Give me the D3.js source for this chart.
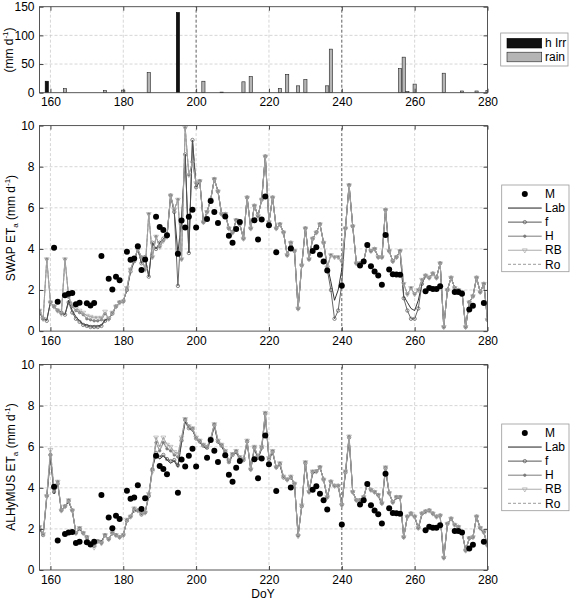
<!DOCTYPE html>
<html><head><meta charset="utf-8">
<script src="https://cdn.jsdelivr.net/npm/d3@7"></script>
<style>
body{margin:0;background:#fff}
svg{display:block}
text{font-family:"Liberation Sans",Arial,Helvetica,sans-serif;fill:#000}
</style>
</head><body>
<svg id="c" width="574" height="602"></svg>
<script>
// ---------- DATA ----------
const days = d3.range(157, 281); // DoY 157..280

const xTicks = [160, 180, 200, 220, 240, 260, 280];
const rainTicks = [0, 50, 100, 150];
const etTicks = [0, 2, 4, 6, 8, 10];

// irrigation & rain (mm/d)
const irrDays = [159, 195, 207];
const irrVals = [20, 140, 1];
const rainDays = [164, 175, 180, 187, 202, 213, 215, 223, 225, 228, 230, 236, 237, 256, 257, 258, 260, 268, 273, 277, 280];
const rainVals = [7, 3.5, 4.5, 35, 20, 19, 28, 7.5, 32, 12, 23, 12, 76, 42, 62, 2, 15, 34, 3, 3, 4];

// measured ET (M)
const mDays = [161,162,164,165,166,167,168,170,171,172,174,176,177,178,179,181,182,183,184,185,186,189,190,191,192,195,196,197,198,199,200,203,204,205,206,208,209,210,211,212,216,217,218,219,220,222,226,232,233,234,235,236,240,245,246,247,248,249,250,251,252,253,254,255,256,263,264,265,266,267,271,272,273,275,276,279];
const mVals = [4.05,1.43,1.75,1.82,1.85,1.31,1.38,1.35,1.24,1.37,3.65,2.55,2.03,2.64,2.48,3.86,3.47,3.53,4.13,2.97,3.49,5.56,5.06,4.92,4.66,3.76,5.38,5.04,5.56,5.9,5.04,5.46,6.33,5.8,5.26,5.58,4.64,4.3,4.97,5.31,5.39,4.46,5.43,6.55,5.15,3.84,4.02,3.9,4.08,3.71,3.39,2.95,2.21,3.19,3.39,4.19,3.15,2.9,2.71,2.26,4.68,3.0,2.77,2.76,2.74,1.94,2.1,2.05,2.05,2.18,1.9,1.9,1.82,1.05,1.23,1.37];

// SWAP simulated ET (days 157..280)
const swapLab = [
 0.9,0.6,0.55,1.4,1.2,1.0,0.9,0.8,1.5,1.0,
 0.7,0.5,0.35,0.3,0.25,0.25,0.25,0.3,0.55,0.6,
 0.85,1.2,1.4,1.45,2.0,2.9,3.4,4.0,3.3,3.6,
 2.65,4.3,4.0,4.3,4.5,4.6,6.6,5.8,3.8,5.4,
 8.6,3.8,9.3,7.0,7.3,5.3,5.8,6.4,7.4,6.8,
 5.7,5.7,5.0,4.8,5.4,5.2,4.5,6.5,5.0,6.1,
 5.6,6.4,8.5,5.3,6.5,5.0,5.2,4.8,3.7,4.3,
 3.9,1.1,3.2,5.0,3.5,4.5,4.8,5.2,4.3,3.2,
 2.4,1.5,2.0,3.0,5.0,7.1,5.1,3.3,3.3,3.4,
 4.2,3.9,4.0,3.6,3.6,5.9,3.9,3.4,3.6,3.9,
 1.7,1.4,1.1,1.0,1.5,2.3,2.7,2.6,2.8,2.6,
 3.3,0.2,2.0,2.6,2.1,2.0,1.9,0.2,1.4,1.7,
 2.6,1.9,2.3,0.55];
const swapF = [
 0.9,0.6,0.5,1.4,1.2,1.0,0.9,0.8,1.4,0.9,
 0.6,0.45,0.3,0.25,0.2,0.2,0.2,0.25,0.5,0.6,
 0.85,1.2,1.4,1.45,2.0,2.9,3.4,4.0,3.3,3.6,
 2.65,4.3,4.0,4.3,4.5,4.6,6.6,5.8,2.2,5.4,
 8.6,3.8,9.3,7.0,7.3,5.3,5.8,6.4,7.4,6.8,
 5.7,5.7,5.0,4.8,5.4,5.2,4.5,6.5,5.0,6.1,
 5.6,6.4,8.5,5.3,6.5,5.0,5.2,4.8,3.7,4.3,
 3.9,1.1,3.2,5.0,3.5,4.5,4.8,5.2,4.3,3.0,
 2.0,0.6,1.0,2.3,5.0,7.1,5.1,3.3,3.3,3.4,
 4.2,3.9,4.0,3.6,3.6,5.9,3.9,3.4,3.6,3.9,
 1.6,1.0,0.6,0.6,1.1,2.3,2.7,2.6,2.8,2.6,
 3.3,0.2,2.0,2.6,2.1,2.0,1.9,0.2,1.4,1.7,
 2.6,1.9,2.3,0.55];
const swapH = [
 1.0,0.6,3.5,1.4,1.2,1.0,0.85,3.5,1.65,1.2,
 1.0,0.9,0.8,0.6,0.55,0.5,0.5,0.55,0.85,0.6,
 0.9,1.2,1.4,1.45,2.1,3.0,3.5,4.0,3.6,3.0,
 5.7,3.6,4.6,4.1,4.4,4.6,6.6,5.9,6.4,3.5,
 9.9,7.6,8.2,7.2,7.3,5.3,5.8,6.4,7.4,6.8,
 5.7,5.7,5.0,4.8,5.4,5.2,4.5,6.5,5.0,6.1,
 5.6,6.4,8.5,5.3,6.5,5.0,5.2,4.8,3.7,4.3,
 3.9,1.1,3.2,5.0,3.5,4.5,4.8,5.2,4.3,3.1,
 3.7,3.6,3.6,3.4,5.0,7.1,5.1,3.3,3.3,3.4,
 4.2,3.9,4.0,3.6,3.6,5.9,3.9,3.4,3.6,3.9,
 2.3,1.8,2.1,1.8,2.0,2.5,2.7,2.6,2.8,2.6,
 3.3,0.2,2.0,2.6,2.1,2.0,1.9,0.2,1.4,1.7,
 2.6,1.9,2.3,0.55];
const swapRB = [
 1.0,0.6,3.5,1.4,1.2,1.0,0.85,3.5,1.7,1.3,
 1.1,1.0,0.9,0.75,0.7,0.65,0.65,0.65,0.95,0.6,
 0.9,1.2,1.4,1.45,2.1,3.0,3.5,4.0,3.6,3.0,
 5.7,3.6,4.6,4.1,4.4,4.6,6.6,5.9,6.4,3.5,
 9.9,7.6,8.2,7.2,7.3,5.3,5.8,6.4,7.4,6.8,
 5.7,5.7,5.0,4.8,5.4,5.2,4.5,6.5,5.0,6.1,
 5.6,6.4,8.5,5.3,6.5,5.0,5.2,4.8,3.7,4.3,
 3.9,1.1,3.2,5.0,3.5,4.5,4.8,5.2,4.3,3.1,
 3.7,3.6,3.6,3.4,5.0,7.1,5.1,3.3,3.3,3.4,
 4.2,3.9,4.0,3.6,3.6,5.9,3.9,3.4,3.6,3.9,
 2.3,1.8,2.1,1.8,2.0,2.5,2.7,2.6,2.8,2.6,
 3.3,0.2,2.0,2.6,2.1,2.0,1.9,0.2,1.4,1.7,
 2.6,1.9,2.3,0.55];
const swapRo = [
 1.0,0.6,3.5,1.4,1.2,1.0,0.85,3.5,1.7,1.3,
 1.1,1.0,0.9,0.75,0.7,0.65,0.65,0.65,0.95,0.6,
 0.9,1.2,1.4,1.45,2.1,3.0,3.5,4.0,3.6,3.0,
 5.7,3.6,4.6,4.1,4.4,4.6,6.6,5.9,6.4,3.5,
 9.9,7.6,8.2,7.2,7.3,5.3,5.8,6.4,7.4,6.8,
 5.7,5.7,5.0,4.8,5.4,5.2,4.5,6.5,5.0,6.1,
 5.6,6.4,8.5,5.3,6.5,5.0,5.2,4.8,3.7,4.3,
 3.9,1.1,3.2,5.0,3.5,4.5,4.8,5.2,4.3,3.1,
 3.7,3.6,3.6,3.4,5.0,7.1,5.1,3.3,3.3,3.4,
 4.2,3.9,4.0,3.6,3.6,5.9,3.9,3.4,3.6,3.9,
 2.3,1.8,2.1,1.8,2.0,2.5,2.7,2.6,2.8,2.6,
 3.3,0.2,2.0,2.6,2.1,2.0,1.9,0.2,1.4,1.7,
 2.6,1.9,2.3,0.55];

// ALHyMUS simulated ET (days 157..280)
const alhLab = [
 2.0,1.7,3.5,5.5,3.7,4.2,2.9,3.1,3.3,2.9,
 1.8,2.0,1.8,1.6,1.35,1.25,1.45,1.4,1.7,1.5,
 1.8,1.7,1.6,1.7,2.4,2.6,2.9,2.9,2.7,2.8,
 3.6,5.0,5.6,5.4,5.55,5.35,5.2,5.3,5.0,6.2,
 7.2,6.9,6.8,6.4,6.2,6.0,5.9,6.3,7.0,6.2,
 6.0,5.7,5.2,5.6,5.7,5.4,5.3,6.2,4.9,5.9,
 5.4,5.9,7.5,5.4,5.7,5.0,5.1,4.5,4.4,4.5,
 4.2,1.7,3.1,5.2,3.8,4.7,4.8,5.0,4.4,3.5,
 4.3,4.1,4.1,3.2,4.7,6.4,3.8,3.4,3.4,3.5,
 4.2,3.9,3.8,3.6,3.2,4.9,3.7,3.3,3.5,3.5,
 1.6,2.6,2.7,2.6,2.0,2.7,2.8,2.9,2.7,2.6,
 2.6,0.6,2.2,2.5,2.2,2.1,1.8,1.0,1.5,1.6,
 2.6,2.0,1.8,1.2];
const alhF = [
 2.0,1.7,3.6,5.6,3.8,4.2,2.9,3.1,3.35,2.9,
 1.8,2.0,1.8,1.6,1.3,1.2,1.4,1.35,1.7,1.5,
 1.8,1.7,1.6,1.7,2.4,2.6,2.9,2.9,2.7,2.8,
 3.6,4.9,5.7,5.5,5.6,5.4,5.3,5.35,5.1,6.3,
 7.3,6.9,6.85,6.4,6.25,6.05,5.95,6.35,7.05,6.25,
 6.05,5.75,5.25,5.6,5.75,5.45,5.35,6.25,4.9,5.95,
 5.45,5.95,7.6,5.4,5.75,5.0,5.15,4.5,4.4,4.5,
 4.2,1.7,3.1,5.2,3.8,4.75,4.8,5.0,4.4,3.55,
 4.3,4.1,4.1,3.2,4.75,6.45,3.8,3.4,3.4,3.55,
 4.2,3.9,3.8,3.65,3.25,4.95,3.75,3.3,3.55,3.55,
 1.6,2.6,2.75,2.6,2.05,2.75,2.85,2.9,2.75,2.6,
 2.65,0.6,2.25,2.5,2.2,2.1,1.85,0.95,1.55,1.6,
 2.6,2.05,1.85,1.2];
const alhH = [
 2.1,1.75,3.6,5.6,3.9,4.3,2.9,3.1,3.4,2.9,
 1.8,2.05,1.8,1.6,1.3,1.15,1.4,1.3,1.7,1.5,
 1.8,1.7,1.6,1.7,2.45,2.6,3.0,2.9,2.75,2.8,
 3.7,4.9,6.2,5.8,6.2,5.9,5.8,5.6,5.5,6.4,
 7.35,7.0,6.9,6.45,6.3,6.1,6.0,6.4,7.1,6.3,
 6.1,5.8,5.3,5.65,5.8,5.5,5.4,6.3,4.9,6.0,
 5.5,6.0,7.65,5.45,5.8,5.0,5.2,4.55,4.4,4.55,
 4.2,1.65,3.15,5.25,3.8,4.8,4.8,5.0,4.4,3.55,
 4.3,4.1,4.1,3.15,4.8,6.5,3.8,3.4,3.4,3.55,
 4.2,3.9,3.8,3.65,3.25,5.0,3.75,3.3,3.55,3.55,
 1.6,2.6,2.75,2.6,2.05,2.75,2.85,2.9,2.75,2.6,
 2.65,0.6,2.25,2.5,2.2,2.1,1.85,0.95,1.55,1.6,
 2.6,2.05,1.85,1.2];
const alhRB = [
 2.1,1.75,3.6,5.85,3.9,4.3,2.9,3.1,3.4,2.9,
 1.8,2.05,1.8,1.6,1.3,1.1,1.4,1.3,1.7,1.5,
 1.8,1.7,1.6,1.7,2.45,2.6,3.0,2.9,2.75,2.8,
 3.7,4.8,6.45,6.0,6.45,6.1,6.0,5.75,5.65,6.45,
 7.35,7.0,6.9,6.45,6.3,6.1,6.0,6.4,7.1,6.3,
 6.1,5.8,5.3,5.65,5.8,5.5,5.4,6.3,4.9,6.0,
 5.5,6.0,7.65,5.45,5.8,5.0,5.2,4.55,4.4,4.55,
 4.2,1.65,3.15,5.25,3.8,4.8,4.8,5.0,4.4,3.55,
 4.3,4.1,4.1,3.15,4.8,6.5,3.8,3.4,3.4,3.55,
 4.2,3.9,3.8,3.65,3.25,5.0,3.75,3.3,3.55,3.55,
 1.6,2.6,2.75,2.6,2.05,2.75,2.85,2.9,2.75,2.6,
 2.65,0.6,2.25,2.5,2.2,2.1,1.85,0.95,1.55,1.6,
 2.6,2.05,1.85,1.2];
const alhRo = [
 2.1,1.75,3.6,5.85,3.9,4.3,2.9,3.1,3.4,2.9,
 1.8,2.05,1.8,1.6,1.3,1.1,1.4,1.3,1.7,1.5,
 1.8,1.7,1.6,1.7,2.45,2.6,3.0,2.9,2.75,2.8,
 3.7,4.8,6.45,6.0,6.45,6.1,6.0,5.75,5.65,6.45,
 7.35,7.0,6.9,6.45,6.3,6.1,6.0,6.4,7.1,6.3,
 6.1,5.8,5.3,5.65,5.8,5.5,5.4,6.3,4.9,6.0,
 5.5,6.0,7.65,5.45,5.8,5.0,5.2,4.55,4.4,4.55,
 4.2,1.65,3.15,5.25,3.8,4.8,4.8,5.0,4.4,3.55,
 4.3,4.1,4.1,3.15,4.8,6.5,3.8,3.4,3.4,3.55,
 4.2,3.9,3.8,3.65,3.25,5.0,3.75,3.3,3.55,3.55,
 1.6,2.6,2.75,2.6,2.05,2.75,2.85,2.9,2.75,2.6,
 2.65,0.6,2.25,2.5,2.2,2.1,1.85,0.95,1.55,1.6,
 2.6,2.05,1.85,1.2];

// ---------- STYLES ----------
const styles = {
  Lab: {color: '#1e1e1e', dash: null, marker: null},
  f:   {color: '#555555', dash: null, marker: 'circle'},
  H:   {color: '#7a7a7a', dash: null, marker: 'dot'},
  RB:  {color: '#ababab', dash: null, marker: 'tri'},
  Ro:  {color: '#9c9c9c', dash: '3,2', marker: null}
};
const seriesOrder = ['Lab', 'f', 'H', 'RB', 'Ro'];

// ---------- LAYOUT ----------
const svg = d3.select('#c');
const L = 39.5, R = 487.5;
const x = d3.scaleLinear().domain([157, 280]).range([L, R]);

const panels = {
  top: {y: d3.scaleLinear().domain([0, 150]).range([92.7, 6.7]), ticks: rainTicks, marks: [200, 240]},
  mid: {y: d3.scaleLinear().domain([0, 10]).range([331.1, 125.6]), ticks: etTicks, marks: [240]},
  bot: {y: d3.scaleLinear().domain([0, 10]).range([570, 364.5]), ticks: etTicks, marks: [240]}
};

function drawFrame(p, id) {
  const y = p.y;
  const [y0, y1] = y.range();
  const g = svg.append('g');
  // clip
  svg.append('clipPath').attr('id', 'clip-' + id)
    .append('rect').attr('x', L).attr('y', y1).attr('width', R - L).attr('height', y0 - y1);
  // grid
  g.selectAll('.gx').data(xTicks.filter(t => t > 157 && t < 280)).enter().append('line')
    .attr('x1', d => x(d)).attr('x2', d => x(d)).attr('y1', y0).attr('y2', y1)
    .attr('stroke', d => p.marks.includes(d) ? '#333' : '#c4c4c4')
    .attr('stroke-width', d => p.marks.includes(d) ? 0.8 : 0.7)
    .attr('stroke-dasharray', '3,2');
  g.selectAll('.gy').data(p.ticks.filter(t => t > y.domain()[0] && t < y.domain()[1])).enter().append('line')
    .attr('x1', L).attr('x2', R).attr('y1', d => y(d)).attr('y2', d => y(d))
    .attr('stroke', '#c4c4c4').attr('stroke-width', 0.7).attr('stroke-dasharray', '3,2');
  return g;
}

function drawAxes(p) {
  const y = p.y;
  const [y0, y1] = y.range();
  const axB = svg.append('g').attr('transform', `translate(0,${y0})`)
    .call(d3.axisBottom(x).tickValues(xTicks).tickSize(-4).tickPadding(5));
  const axT = svg.append('g').attr('transform', `translate(0,${y1})`)
    .call(d3.axisTop(x).tickValues(xTicks).tickSize(-4).tickFormat(''));
  const axL = svg.append('g').attr('transform', `translate(${L},0)`)
    .call(d3.axisLeft(y).tickValues(p.ticks).tickSize(-4).tickPadding(5));
  const axR = svg.append('g').attr('transform', `translate(${R},0)`)
    .call(d3.axisRight(y).tickValues(p.ticks).tickSize(-4).tickFormat(''));
  [axB, axT, axL, axR].forEach(a => {
    a.select('.domain').remove();
    a.selectAll('line').attr('stroke', '#444');
    a.selectAll('text').attr('font-size', 12).attr('fill', '#000')
      .attr('font-family', '"Liberation Sans",Arial,sans-serif');
  });
  svg.append('rect').attr('x', L).attr('y', y1).attr('width', R - L).attr('height', y0 - y1)
    .attr('fill', 'none').attr('stroke', '#444').attr('stroke-width', 0.9);
}

// ---------- TOP PANEL: bars ----------
(function () {
  const p = panels.top;
  drawFrame(p, 'top');
  const w = 0.88 * (x(1) - x(0));
  const g = svg.append('g').attr('clip-path', 'url(#clip-top)');
  g.selectAll('.rain').data(rainDays.map((d, i) => [d, rainVals[i]])).enter().append('rect')
    .attr('x', d => x(d[0]) - w / 2).attr('width', w)
    .attr('y', d => p.y(d[1])).attr('height', d => p.y(0) - p.y(d[1]))
    .attr('fill', '#b5b5b5').attr('stroke', '#222').attr('stroke-width', 0.6);
  g.selectAll('.irr').data(irrDays.map((d, i) => [d, irrVals[i]])).enter().append('rect')
    .attr('x', d => x(d[0]) - w / 2).attr('width', w)
    .attr('y', d => p.y(d[1])).attr('height', d => p.y(0) - p.y(d[1]))
    .attr('fill', '#111').attr('stroke', '#000').attr('stroke-width', 0.6);
  drawAxes(p);
  // y label
  const t = svg.append('text').attr('transform', `translate(13,50) rotate(-90)`)
    .attr('text-anchor', 'middle').attr('font-size', 12);
  t.append('tspan').text('(mm d');
  t.append('tspan').attr('dy', -5).attr('font-size', 8).text('-1');
  t.append('tspan').attr('dy', 5).text(')');
  // legend
  const lg = svg.append('g');
  lg.append('rect').attr('x', 500.7).attr('y', 33).attr('width', 67.3).attr('height', 33)
    .attr('fill', '#fff').attr('stroke', '#999').attr('stroke-width', 0.8);
  const items = [['h Irr', '#111', '#000', 43.2], ['rain', '#b5b5b5', '#222', 57]];
  items.forEach(it => {
    lg.append('rect').attr('x', 507).attr('y', it[3] - 4.8).attr('width', 34.7).attr('height', 9.6)
      .attr('fill', it[1]).attr('stroke', it[2]).attr('stroke-width', 0.6);
    lg.append('text').attr('x', 545).attr('y', it[3]).attr('dy', '0.35em').attr('font-size', 12).text(it[0]);
  });
})();

// ---------- ET PANELS ----------
function symbolFor(kind) {
  if (kind === 'circle') return d3.symbol().type(d3.symbolCircle).size(9)();
  if (kind === 'dot') return d3.symbol().type(d3.symbolCircle).size(5)();
  if (kind === 'tri') return d3.symbol().type(d3.symbolTriangle).size(10)();
  return null;
}

function drawSeries(g, y, vals, st) {
  const line = d3.line().x((v, i) => x(days[i])).y(v => y(v));
  g.append('path').attr('d', line(vals)).attr('fill', 'none')
    .attr('stroke', st.color).attr('stroke-width', 0.9)
    .attr('stroke-dasharray', st.dash).attr('stroke-linejoin', 'round');
  if (st.marker) {
    const sym = symbolFor(st.marker);
    g.selectAll(null).data(vals).enter().append('path')
      .attr('d', sym)
      .attr('transform', (v, i) => `translate(${x(days[i])},${y(v)})` + (st.marker === 'tri' ? ' rotate(180)' : ''))
      .attr('fill', st.marker === 'dot' ? st.color : 'none')
      .attr('stroke', st.color).attr('stroke-width', 0.7);
  }
}

function drawLegend(y0) {
  const lg = svg.append('g');
  lg.append('rect').attr('x', 501.7).attr('y', y0).attr('width', 67.3).attr('height', 86.7)
    .attr('fill', '#fff').attr('stroke', '#999').attr('stroke-width', 0.8);
  const names = ['M'].concat(seriesOrder);
  names.forEach((n, i) => {
    const yy = y0 + 9 + i * 14.06;
    if (n === 'M') {
      lg.append('circle').attr('cx', 524.8).attr('cy', yy).attr('r', 3).attr('fill', '#000');
    } else {
      const st = styles[n];
      lg.append('line').attr('x1', 508).attr('x2', 541.7).attr('y1', yy).attr('y2', yy)
        .attr('stroke', st.color).attr('stroke-width', 1).attr('stroke-dasharray', st.dash);
      if (st.marker) {
        lg.append('path').attr('d', symbolFor(st.marker))
          .attr('transform', `translate(524.8,${yy})` + (st.marker === 'tri' ? ' rotate(180)' : ''))
          .attr('fill', st.marker === 'dot' ? st.color : 'none')
          .attr('stroke', st.color).attr('stroke-width', 0.7);
      }
    }
    lg.append('text').attr('x', 545).attr('y', yy).attr('dy', '0.35em').attr('font-size', 12).text(n);
  });
}

function etPanel(p, id, data, label, legendY, labelCY) {
  drawFrame(p, id);
  const g = svg.append('g').attr('clip-path', `url(#clip-${id})`);
  seriesOrder.forEach(n => drawSeries(g, p.y, data[n], styles[n]));
  g.selectAll('.m').data(mDays.map((d, i) => [d, mVals[i]])).enter().append('circle')
    .attr('cx', d => x(d[0])).attr('cy', d => p.y(d[1])).attr('r', 3).attr('fill', '#000');
  drawAxes(p);
  const t = svg.append('text').attr('transform', `translate(15,${labelCY}) rotate(-90)`)
    .attr('text-anchor', 'middle').attr('font-size', 12);
  t.append('tspan').text(label + ' ET');
  t.append('tspan').attr('dy', 3).attr('font-size', 8).text('a');
  t.append('tspan').attr('dy', -3).text('  (mm d');
  t.append('tspan').attr('dy', -5).attr('font-size', 8).text('-1');
  t.append('tspan').attr('dy', 5).text(')');
  drawLegend(legendY);
}

etPanel(panels.mid, 'mid', {Lab: swapLab, f: swapF, H: swapH, RB: swapRB, Ro: swapRo}, 'SWAP', 185, 228);
etPanel(panels.bot, 'bot', {Lab: alhLab, f: alhF, H: alhH, RB: alhRB, Ro: alhRo}, 'ALHyMUS', 424, 467);

svg.append('text').attr('x', 263).attr('y', 594).attr('dy', '0.35em').attr('text-anchor', 'middle')
  .attr('font-size', 12).text('DoY');
</script>
</body></html>
